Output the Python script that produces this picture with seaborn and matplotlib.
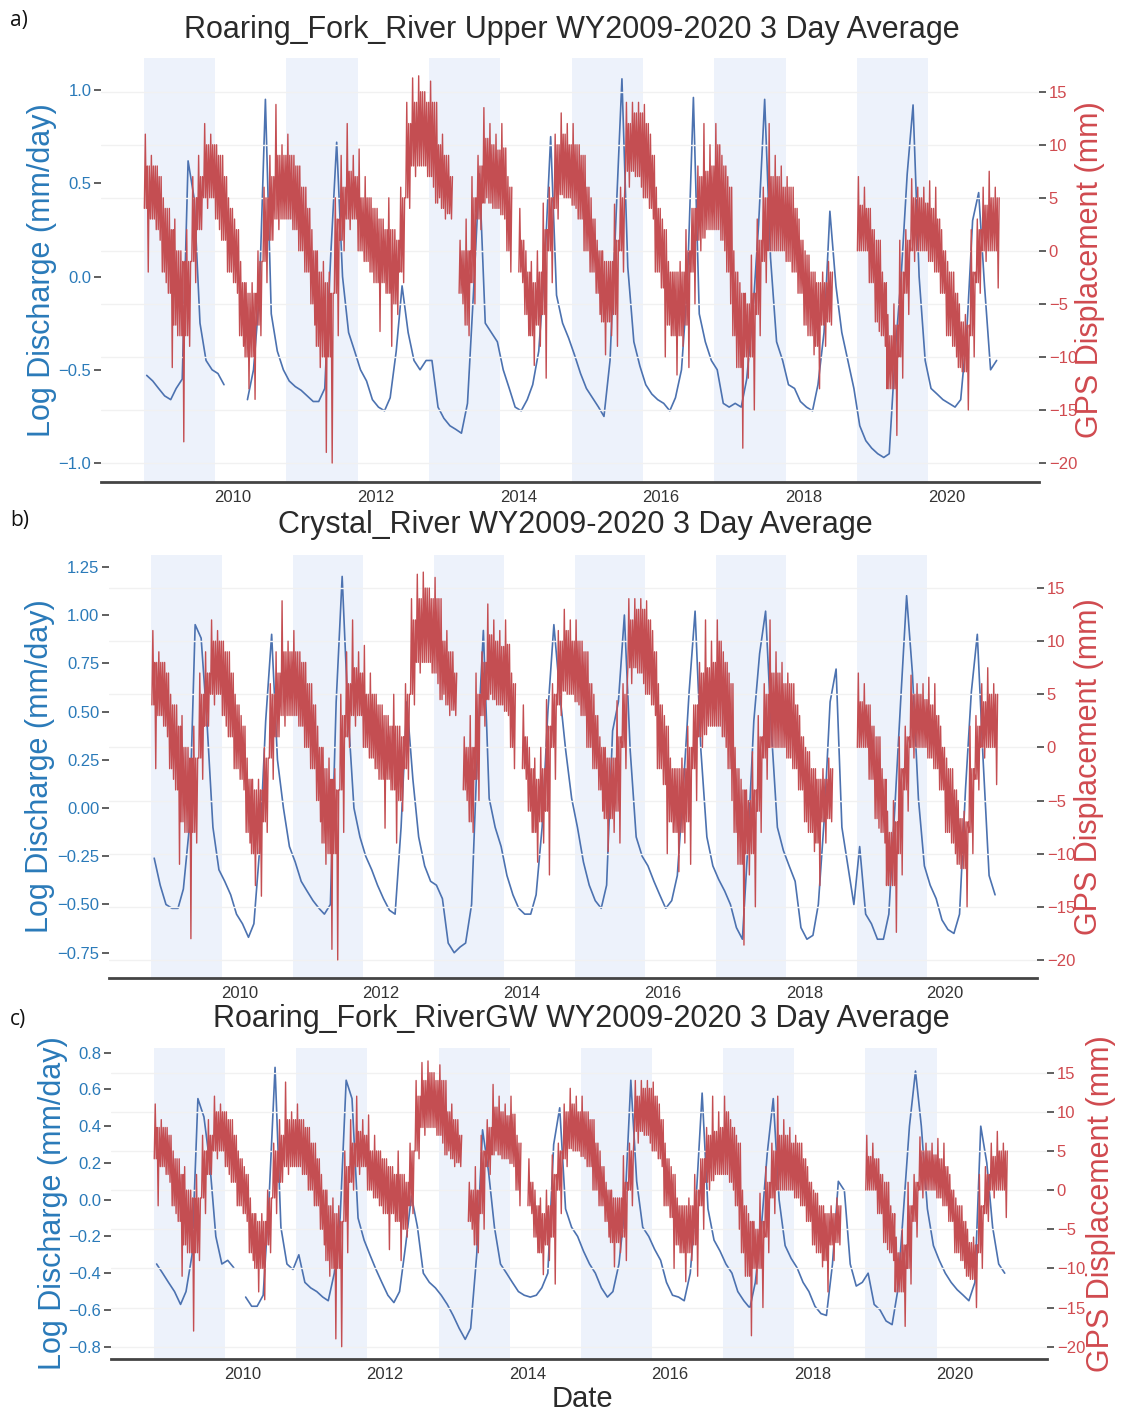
import numpy as np
import pandas as pd
import matplotlib
matplotlib.use("Agg")
import matplotlib.pyplot as plt
import seaborn as sns

# ---------------- data (monthly readings, Oct 2008 .. Sep 2020) ----------------
nan = np.nan
months = pd.date_range("2008-10-01", "2020-09-01", freq="MS")

# Panel a: Roaring Fork River Upper, log discharge (mm/day)
blue_a = [
    -0.53, -0.56, -0.60, -0.64, -0.66, -0.60, -0.55, 0.62, 0.42, -0.25, -0.45, -0.50,
    -0.52, -0.58, nan, nan, nan, -0.66, -0.50, -0.10, 0.95, -0.20, -0.40, -0.50,
    -0.56, -0.59, -0.61, -0.64, -0.67, -0.67, -0.60, 0.10, 0.72, 0.00, -0.30, -0.40,
    -0.50, -0.56, -0.66, -0.70, -0.72, -0.65, -0.40, -0.05, -0.30, -0.45, -0.50, -0.45,
    -0.45, -0.70, -0.76, -0.80, -0.82, -0.84, -0.68, -0.10, 0.55, -0.25, -0.30, -0.35,
    -0.50, -0.60, -0.70, -0.72, -0.66, -0.58, -0.40, 0.05, 0.75, -0.10, -0.25, -0.33,
    -0.42, -0.52, -0.60, -0.65, -0.70, -0.75, -0.45, 0.30, 1.06, 0.05, -0.35, -0.48,
    -0.58, -0.63, -0.66, -0.68, -0.72, -0.65, -0.50, -0.05, 0.96, -0.20, -0.35, -0.45,
    -0.50, -0.68, -0.70, -0.68, -0.70, -0.55, -0.20, 0.28, 0.95, 0.10, -0.35, -0.45,
    -0.58, -0.60, -0.67, -0.70, -0.72, -0.58, -0.30, 0.35, -0.05, -0.30, -0.45, -0.60,
    -0.80, -0.88, -0.92, -0.95, -0.97, -0.95, -0.40, 0.00, 0.55, 0.92, 0.00, -0.45,
    -0.60, -0.63, -0.66, -0.68, -0.70, -0.66, -0.30, 0.30, 0.45, -0.05, -0.50, -0.45,
]

# Panel b: Crystal River
blue_b = [
    -0.26, -0.40, -0.50, -0.52, -0.52, -0.42, -0.10, 0.95, 0.88, 0.45, -0.10, -0.32,
    -0.38, -0.45, -0.55, -0.60, -0.67, -0.60, -0.20, 0.45, 0.90, 0.25, 0.00, -0.20,
    -0.28, -0.38, -0.43, -0.48, -0.52, -0.55, -0.50, 0.55, 1.20, 0.50, 0.00, -0.15,
    -0.25, -0.32, -0.40, -0.47, -0.53, -0.55, -0.10, 0.55, 0.15, -0.15, -0.30, -0.38,
    -0.40, -0.47, -0.70, -0.75, -0.72, -0.70, -0.50, 0.30, 0.92, 0.05, -0.10, -0.20,
    -0.35, -0.45, -0.52, -0.55, -0.55, -0.45, -0.10, 0.50, 0.95, 0.60, 0.30, 0.05,
    -0.10, -0.28, -0.40, -0.48, -0.52, -0.40, 0.40, 0.55, 1.00, 0.30, -0.15, -0.25,
    -0.30, -0.38, -0.45, -0.52, -0.48, -0.35, 0.10, 0.60, 1.02, 0.30, -0.15, -0.30,
    -0.37, -0.43, -0.50, -0.62, -0.68, -0.20, 0.45, 0.80, 1.02, 0.40, -0.10, -0.22,
    -0.30, -0.38, -0.62, -0.68, -0.66, -0.50, -0.05, 0.55, 0.72, -0.10, -0.30, -0.50,
    -0.20, -0.55, -0.60, -0.68, -0.68, -0.55, 0.00, 0.55, 1.10, 0.70, 0.05, -0.30,
    -0.40, -0.47, -0.58, -0.63, -0.65, -0.55, 0.10, 0.60, 0.90, 0.25, -0.35, -0.45,
]

# Panel c: Roaring Fork River GW
blue_c = [
    -0.35, -0.40, -0.45, -0.50, -0.57, -0.50, -0.30, 0.55, 0.45, 0.20, -0.20, -0.35,
    -0.33, -0.37, nan, -0.53, -0.58, -0.58, -0.52, 0.00, 0.72, -0.15, -0.35, -0.38,
    -0.30, -0.45, -0.48, -0.50, -0.53, -0.55, -0.40, -0.10, 0.65, 0.55, -0.10, -0.22,
    -0.30, -0.38, -0.45, -0.52, -0.56, -0.50, -0.25, 0.02, -0.15, -0.40, -0.45, -0.48,
    -0.52, -0.57, -0.63, -0.70, -0.76, -0.70, -0.30, 0.38, 0.15, -0.15, -0.35, -0.40,
    -0.45, -0.50, -0.52, -0.53, -0.52, -0.48, -0.40, 0.30, 0.50, -0.05, -0.15, -0.20,
    -0.28, -0.35, -0.40, -0.48, -0.53, -0.50, -0.35, -0.05, 0.65, 0.10, -0.15, -0.20,
    -0.27, -0.33, -0.45, -0.52, -0.53, -0.55, -0.40, 0.00, 0.58, -0.05, -0.22, -0.28,
    -0.35, -0.40, -0.50, -0.55, -0.59, -0.45, -0.15, 0.25, 0.55, 0.00, -0.25, -0.32,
    -0.37, -0.45, -0.50, -0.58, -0.62, -0.63, -0.35, 0.10, 0.05, -0.35, -0.47, -0.45,
    -0.40, -0.57, -0.60, -0.66, -0.68, -0.50, -0.05, 0.40, 0.70, 0.40, -0.05, -0.25,
    -0.33, -0.40, -0.45, -0.49, -0.52, -0.55, -0.45, 0.40, 0.20, -0.15, -0.35, -0.40,
]

# GPS displacement (mm): monthly spike extremes of the noisy trace
red_hi = [
    11, 9, 8, 5, 4, 3, 0, 2, 7, 9, 12, 11,
    10, 9, 5, 3, -1, -3, -3, 0, 6, 9, 13.8, 10,
    11, 9, 8, 6, 2, 0, -1, -2, 5, 9, 12, 9,
    9.6, 7, 5, 4, 3, 5, 2, 6, 14, 16.3, 16.5, 15,
    16, 14, 11, 9, nan, 1, 3, 7, 9, 13.5, 12, 11,
    12, 7, nan, 4, 0, -1, 0, 4.5, 6, 11, 13, 12,
    12, 10, 9, 5, 1, 0, -1, 4.4, 6, 14, 14, 14,
    13.8, 11, 6, 3, -1, -2, -1, 2, 4, 8, 12, 10,
    12, 9, 7, 0, -3, -4, -0.4, 3, 6, 12, 9, 8,
    7, 6, 3, 0, -2, -3, -2, -1, nan, nan, nan, nan,
    7, 6, 4, 1, -2, -6, -5, 1, 2, 6.8, 6, 6,
    6.6, 6, 2, -1, -2, -5, -6, 2, 3, 6, 7.5, 6,
]
red_lo = [
    -2, 3, 1, -3, -11, -8, -18, -9, -3, 2, 4, 5,
    2, 1, -2, -4, -9, -13, -14, -8, -3, 1, 2, 3,
    3, 2, 0, -2, -7, -11, -19, -20, -8, 0, 2, 3,
    0, -1, -3, -7.6, -4, -9, -6, -3, 4, 7, 8, 7,
    6, 5, 3, 3, nan, -5, -8, -5, 2, 5, 4, 4,
    3, -2, nan, -3, -8, -10.8, -9, -12, -3, 3, 5, 5,
    4, 3, 0, -2, -6, -9.8, -8, -9, -2, 6, 7, 6,
    5, 3, -2, -10, -8, -11.7, -9, -11, -5, 0, 2, 2,
    2, 0, -5, -11, -18.6, -12, -15, -8, -3, 0, 0, 0,
    -1, -2, -4, -8, -9.8, -13, -9, -7, nan, nan, nan, nan,
    0, 0, -3, -7.6, -9, -13, -17.4, -12, -6, -1, 0, 0,
    -1, -2, -4, -8, -10, -11.4, -15, -10, -4, -1, 0, -3.5,
]
# GPS displacement (mm): monthly dense core band of the trace
core_hi = [
    8, 8, 7, 4, 2, 0, -1, -1, 5, 7, 10, 10,
    9, 7, 4, 2, -3, -4, -4, -1, 5, 7, 9, 9,
    9, 8, 6, 4, 0, -2, -3, -4, 3, 6, 7.5, 7,
    5, 5, 4, 3, 2, 2, 1, 5, 12, 14, 15, 14,
    14, 10, 9, 7, nan, 0, 0, 5, 8, 10.6, 10, 9.5,
    9.7, 6, nan, 1, -2, -3, -2, 2, 5, 10, 11, 10,
    10, 9, 6, 3, 0, -1, -1, 1, 5, 12, 13, 13,
    12, 9, 4, 2, -2, -2, -2, 0, 4, 7, 7.5, 8,
    10, 8, 6, -2, -4, -5, -4, 1, 5, 7, 7, 6,
    6, 4, 1, -0.4, -2, -3, -3, -2, nan, nan, nan, nan,
    4.3, 4, 2, 1, -3, -8, -7, -2, 1, 5, 5, 4.5,
    4, 3, 0, -2, -4, -6.7, -7, -2, 2, 4.3, 5, 5,
]
core_lo = [
    4, 3, 2, -2, -4, -7, -8, -8, -1, 2, 5, 5,
    3, 1, -2, -3, -8, -10, -10, -7, -1, 1, 3, 3,
    3, 2, 0, -2, -5, -9, -10, -10, -4, 1, 3, 3,
    0, -1, -2, -3, -3, -4, -5, -2, 5, 8, 8, 8,
    7, 4.5, 4, 3.5, nan, -4, -7, -3, 3, 4.5, 4.5, 4,
    3.4, 0, nan, -2, -6, -8, -7, -6, 0, 4, 5.3, 5,
    4.3, 3, 0, -2, -4, -6.7, -6.7, -6, 0, 7.5, 7.5, 7,
    5, 4, -2, -3.5, -7, -8, -8, -7, -2, 1, 1.2, 2,
    2, 1, -2, -8, -11, -10, -10, -6, -1, 0, 0, 0,
    -1, -2, -4, -7, -8, -9, -7, -6.7, nan, nan, nan, nan,
    0, 0, -3, -6.7, -8, -13, -13, -10, -4, 0, 0, 0,
    -1, -2, -4, -8, -9, -11, -11.4, -8, -3, 0, 0, 0,
]

titles = ["Roaring_Fork_River Upper WY2009-2020 3 Day Average",
          "Crystal_River WY2009-2020 3 Day Average",
          "Roaring_Fork_RiverGW WY2009-2020 3 Day Average"]
letters = ["a)", "b)", "c)"]
year_ticks = [2010, 2012, 2014, 2016, 2018, 2020]
shade_wys = [2009, 2011, 2013, 2015, 2017, 2019]
left_ticks = [[-1.0, -0.5, 0.0, 0.5, 1.0],
              [-0.75, -0.5, -0.25, 0.0, 0.25, 0.5, 0.75, 1.0, 1.25],
              [-0.8, -0.6, -0.4, -0.2, 0.0, 0.2, 0.4, 0.6, 0.8]]
left_fmt = ["{:.1f}", "{:.2f}", "{:.1f}"]
right_ticks = [-20, -15, -10, -5, 0, 5, 10, 15]


def seg_frame(dates, values):
    s = pd.Series(values, dtype=float)
    seg = s.isna().cumsum()
    df = pd.DataFrame({"date": list(dates), "value": s.values, "seg": seg.values})
    return df.dropna()


blue_dates = months + pd.Timedelta(days=14)
# drawing order inside each month: core low, spike high, core low, core high, spike low, core high
red_dates, red_vals = [], []
for d, h, l, ch, cl in zip(months, red_hi, red_lo, core_hi, core_lo):
    for k, v in zip([2, 7, 12, 17, 22, 27], [cl, h, cl, ch, l, ch]):
        red_dates.append(d + pd.Timedelta(days=k))
        red_vals.append(v)
red_df = seg_frame(red_dates, red_vals)

# ---------------- styling ----------------
sns.set_style("white")
plt.rcParams["font.family"] = ["Liberation Sans", "DejaVu Sans"]

W, H = 1125, 1412
fig = plt.figure(figsize=(W / 100, H / 100), dpi=100)

BLUE_LINE = "#4c72b0"
RED_LINE = "#c44e52"
BLUE_TXT = "#2a7ab9"
RED_TXT = "#d04a4f"
SHADE = "#edf2fb"
AX_COL = "#444444"

layout = [
    dict(l=101, r=1039, t=58.3, b=481.7, y1=(-1.100, 1.170), y2=(-21.76, 18.15),
         tb=38, lb=26, llx=42, rlx=1090),
    dict(l=109, r=1037, t=555, b=978, y1=(-0.881, 1.311), y2=(-21.70, 18.11),
         tb=533, lb=526, llx=40, rlx=1089),
    dict(l=111, r=1047, t=1047.7, b=1359, y1=(-0.867, 0.827), y2=(-21.57, 18.19),
         tb=1027, lb=1025, llx=53, rlx=1101),
]
blues = [blue_a, blue_b, blue_c]
xlim = (pd.Timestamp("2008-02-24"), pd.Timestamp("2021-04-20"))

for i, L in enumerate(layout):
    rect = [L["l"] / W, 1 - L["b"] / H, (L["r"] - L["l"]) / W, (L["b"] - L["t"]) / H]
    ax1 = fig.add_axes(rect)
    ax1.set_facecolor("white")
    for wy in shade_wys:
        ax1.axvspan(pd.Timestamp(f"{wy-1}-10-01"), pd.Timestamp(f"{wy}-10-01"),
                    color=SHADE, lw=0, zorder=0)
    bdf = seg_frame(blue_dates, blues[i])
    sns.lineplot(data=bdf, x="date", y="value", units="seg", estimator=None,
                 color=BLUE_LINE, linewidth=1.2, ax=ax1, legend=False, sort=False)
    ax2 = ax1.twinx()
    ax2.set_ylim(*L["y2"])
    ax2.set_yticks(right_ticks)
    ax2.grid(axis="y", color="#f1f1f1", lw=1.0)
    ax2.set_axisbelow(True)
    sns.lineplot(data=red_df, x="date", y="value", units="seg", estimator=None,
                 color=RED_LINE, linewidth=1.0, ax=ax2, legend=False, sort=False)

    ax1.set_xlim(*xlim)
    ax2.set_xlim(*xlim)
    ax1.set_ylim(*L["y1"])
    ax2.set_ylim(*L["y2"])
    ax1.set_yticks(left_ticks[i])
    ax1.set_yticklabels([left_fmt[i].format(v).replace("-", "\u2212") for v in left_ticks[i]])
    ax2.set_yticks(right_ticks)
    ax2.set_yticklabels([str(v).replace("-", "\u2212") for v in right_ticks])
    ax1.set_xticks([pd.Timestamp(f"{y}-01-01") for y in year_ticks])
    ax1.set_xticklabels([str(y) for y in year_ticks])

    ax1.tick_params(axis="y", direction="out", length=5, width=1.2, color=AX_COL,
                    labelcolor=BLUE_TXT, labelsize=12, pad=2, left=True)
    ax2.tick_params(axis="y", direction="out", length=5, width=1.2, color=AX_COL,
                    labelcolor=RED_TXT, labelsize=12, pad=2, right=True)
    ax1.tick_params(axis="x", length=0, labelsize=12, labelcolor="#333333", pad=6)
    ax2.tick_params(axis="x", bottom=False, labelbottom=False)

    for s in ["left", "right", "top"]:
        ax1.spines[s].set_visible(False)
    for s in ax2.spines.values():
        s.set_visible(False)
    ax1.spines["bottom"].set_color(AX_COL)
    ax1.spines["bottom"].set_linewidth(2)
    ax1.set_xlabel("")
    ax1.set_ylabel("")
    ax2.set_xlabel("")
    ax2.set_ylabel("")

    ymid = 1 - (L["t"] + L["b"]) / 2 / H
    fig.text(L["llx"] / W, ymid, "Log Discharge (mm/day)", rotation=90,
             ha="center", va="center", fontsize=22, color=BLUE_TXT)
    fig.text(L["rlx"] / W, ymid, "GPS Displacement (mm)", rotation=90,
             ha="center", va="center", fontsize=22, color=RED_TXT)
    fig.text(((L["l"] + L["r"]) / 2 + 2) / W, 1 - L["tb"] / H, titles[i],
             ha="center", va="baseline", fontsize=22, color="#2a2a2a")
    fig.text(10 / W, 1 - L["lb"] / H, letters[i], ha="left", va="baseline",
             fontsize=15, color="#111111", family=["Open Sans", "DejaVu Sans"])

fig.text(582 / W, 1 - 1407 / H, "Date", ha="center", va="baseline",
         fontsize=21, color="#2a2a2a")

fig.savefig("out.png", dpi=100, facecolor="white")
